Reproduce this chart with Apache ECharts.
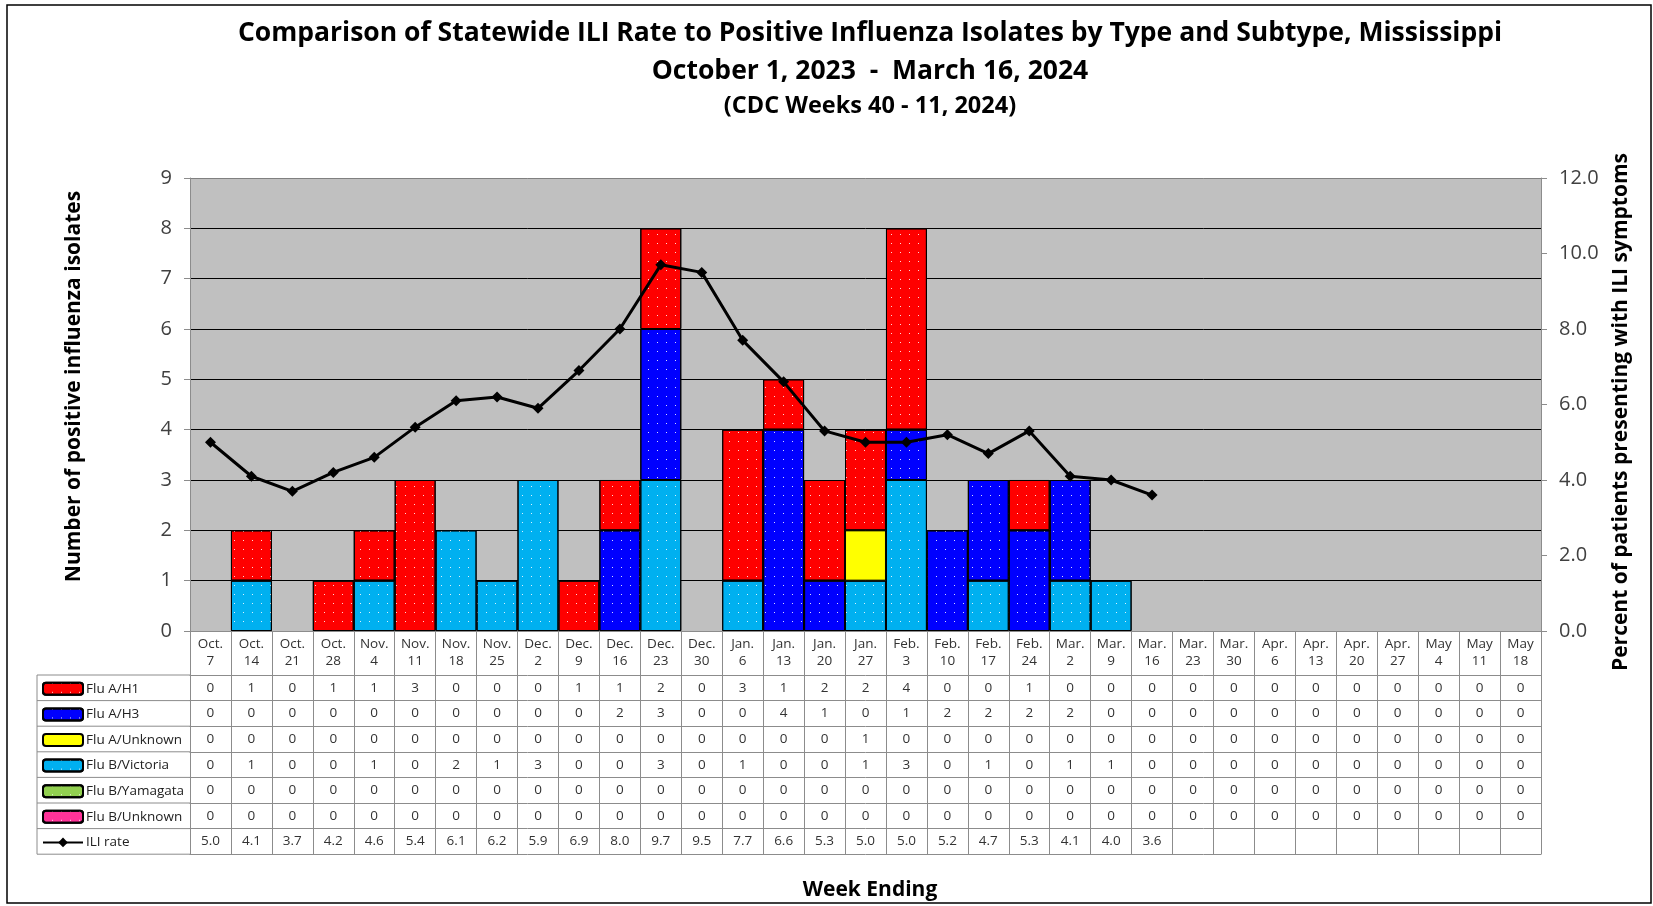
<!DOCTYPE html>
<html>
<head>
<meta charset="utf-8">
<title>ILI Rate vs Positive Influenza Isolates, Mississippi</title>
<script src="https://cdn.jsdelivr.net/npm/echarts@6.0.0/dist/echarts.min.js"></script>
<style>
  html, body { margin: 0; padding: 0; background: #fff; }
  #chart { width: 1653px; height: 906px; }
</style>
</head>
<body>
<div id="chart"></div>
<script>
// week ending (CDC weeks 40 - 20)
const weeks = ['Oct.\n7', 'Oct.\n14', 'Oct.\n21', 'Oct.\n28', 'Nov.\n4', 'Nov.\n11', 'Nov.\n18', 'Nov.\n25',
  'Dec.\n2', 'Dec.\n9', 'Dec.\n16', 'Dec.\n23', 'Dec.\n30', 'Jan.\n6', 'Jan.\n13', 'Jan.\n20', 'Jan.\n27',
  'Feb.\n3', 'Feb.\n10', 'Feb.\n17', 'Feb.\n24', 'Mar.\n2', 'Mar.\n9', 'Mar.\n16', 'Mar.\n23', 'Mar.\n30',
  'Apr.\n6', 'Apr.\n13', 'Apr.\n20', 'Apr.\n27', 'May\n4', 'May\n11', 'May\n18']

// isolates per week
const fluAH1       = [0, 1, 0, 1, 1, 3, 0, 0, 0, 1, 1, 2, 0, 3, 1, 2, 2, 4, 0, 0, 1, 0, 0, 0, 0, 0, 0, 0, 0, 0, 0, 0, 0]
const fluAH3       = [0, 0, 0, 0, 0, 0, 0, 0, 0, 0, 2, 3, 0, 0, 4, 1, 0, 1, 2, 2, 2, 2, 0, 0, 0, 0, 0, 0, 0, 0, 0, 0, 0]
const fluAUnknown  = [0, 0, 0, 0, 0, 0, 0, 0, 0, 0, 0, 0, 0, 0, 0, 0, 1, 0, 0, 0, 0, 0, 0, 0, 0, 0, 0, 0, 0, 0, 0, 0, 0]
const fluBVictoria = [0, 1, 0, 0, 1, 0, 2, 1, 3, 0, 0, 3, 0, 1, 0, 0, 1, 3, 0, 1, 0, 1, 1, 0, 0, 0, 0, 0, 0, 0, 0, 0, 0]
const fluBYamagata = [0, 0, 0, 0, 0, 0, 0, 0, 0, 0, 0, 0, 0, 0, 0, 0, 0, 0, 0, 0, 0, 0, 0, 0, 0, 0, 0, 0, 0, 0, 0, 0, 0]
const fluBUnknown  = [0, 0, 0, 0, 0, 0, 0, 0, 0, 0, 0, 0, 0, 0, 0, 0, 0, 0, 0, 0, 0, 0, 0, 0, 0, 0, 0, 0, 0, 0, 0, 0, 0]

// percent of patients with ILI symptoms (reported weeks only)
const iliRate = [5.0, 4.1, 3.7, 4.2, 4.6, 5.4, 6.1, 6.2, 5.9, 6.9, 8.0, 9.7, 9.5, 7.7, 6.6, 5.3, 5.0, 5.0, 5.2, 4.7, 5.3, 4.1, 4.0, 3.6]

// layout
const PLOT_LEFT = 190, PLOT_RIGHT = 1541, PLOT_TOP = 178, PLOT_BOTTOM = 631
const HEADER_H = 44, ROW_H = 25.6, TABLE_LEFT = 37
const FONT = "'Open Sans', 'Noto Sans', sans-serif"
const TABLE_LINE = '#8c8c8c'

const dots = {
  symbol: 'rect', symbolSize: 1, color: 'rgba(255,255,255,0.85)',
  dashArrayX: [1, 8], dashArrayY: [1, 8], rotation: 0
}

// rows of the data table, top to bottom
const rows = [
  { name: 'Flu A/H1', values: fluAH1, color: '#ff0000', dots: true },
  { name: 'Flu A/H3', values: fluAH3, color: '#0000ff', dots: true },
  { name: 'Flu A/Unknown', values: fluAUnknown, color: '#ffff00', dots: false },
  { name: 'Flu B/Victoria', values: fluBVictoria, color: '#00b0f0', dots: true },
  { name: 'Flu B/Yamagata', values: fluBYamagata, color: '#92d050', dots: true },
  { name: 'Flu B/Unknown', values: fluBUnknown, color: '#ff3399', dots: true },
  { name: 'ILI rate', values: iliRate, decimals: true }
]

// stack order bottom -> top
const stackOrder = ['Flu B/Unknown', 'Flu B/Yamagata', 'Flu B/Victoria', 'Flu A/Unknown', 'Flu A/H3', 'Flu A/H1']

const barSeries = stackOrder.map(name => {
  const r = rows.find(item => item.name == name)
  const itemStyle = { color: r.color, borderColor: '#000', borderWidth: 1 }
  if (r.dots) itemStyle.decal = dots
  return {
    name: r.name,
    type: 'bar',
    stack: 'isolates',
    barCategoryGap: '0%',
    data: r.values.map(v => v === 0 ? null : v),
    itemStyle: itemStyle,
    emphasis: { disabled: true }
  }
})

const lineSeries = {
  name: 'ILI rate',
  type: 'line',
  yAxisIndex: 1,
  data: iliRate,
  symbol: 'diamond',
  symbolSize: 11,
  lineStyle: { color: '#000', width: 3 },
  itemStyle: { color: '#000' },
  z: 5
}

// main category axis = table header, its ticks are the table's vertical lines
const headerAxis = {
  type: 'category',
  data: weeks,
  position: 'bottom',
  axisLine: { show: true, onZero: false, lineStyle: { color: TABLE_LINE } },
  axisTick: { show: true, interval: 0, length: HEADER_H + ROW_H * rows.length, lineStyle: { color: TABLE_LINE } },
  axisLabel: { interval: 0, margin: 5, fontSize: 13.5, lineHeight: 17, color: '#333', fontFamily: FONT }
}

// one axis per table row, the axis line is the row's top border
const rowAxes = rows.map((r, i) => ({
  type: 'category',
  data: weeks,
  position: 'bottom',
  offset: HEADER_H + i * ROW_H,
  axisLine: { show: true, onZero: false, lineStyle: { color: TABLE_LINE } },
  axisTick: { show: false },
  splitLine: { show: false },
  axisLabel: {
    interval: 0, margin: 5, fontSize: 13.5, lineHeight: 16, color: '#333', fontFamily: FONT,
    formatter: (v, idx) => {
      const val = r.values[idx]
      if (val == null) return ''
      return r.decimals ? val.toFixed(1) : String(val)
    }
  }
}))

const bottomAxis = {
  type: 'category',
  data: weeks,
  position: 'bottom',
  offset: HEADER_H + rows.length * ROW_H,
  axisLine: { show: true, onZero: false, lineStyle: { color: TABLE_LINE } },
  axisTick: { show: false },
  axisLabel: { show: false }
}

// legend column, one legend per row so it sits in its cell
const legends = rows.map((r, i) => ({
  data: [r.name],
  left: TABLE_LEFT + 5,
  top: PLOT_BOTTOM + HEADER_H + ROW_H * (i + 0.5) - 6,
  itemWidth: 40,
  itemHeight: 12,
  padding: 0,
  selectedMode: false,
  textStyle: { fontSize: 13.5, color: '#222', fontFamily: FONT, padding: [0, 0, 0, -2] }
}))

// legend column grid lines
const legendLines = []
for (let i = 0; i <= rows.length; i++) {
  const y = PLOT_BOTTOM + HEADER_H + i * ROW_H
  legendLines.push({ type: 'line', shape: { x1: TABLE_LEFT, y1: y, x2: PLOT_LEFT, y2: y }, style: { stroke: TABLE_LINE, lineWidth: 1 } })
}
legendLines.push({ type: 'line', shape: { x1: TABLE_LEFT, y1: PLOT_BOTTOM + HEADER_H, x2: TABLE_LEFT, y2: PLOT_BOTTOM + HEADER_H + rows.length * ROW_H }, style: { stroke: TABLE_LINE, lineWidth: 1 } })

const titleText = (text, y, size) => ({
  type: 'text', x: 870, y: y,
  style: { text: text, fontSize: size, fontWeight: 'bold', fontFamily: FONT, fill: '#000', align: 'center', verticalAlign: 'middle' }
})

const myChart = echarts.init(document.getElementById('chart'))
const option = {
  animation: false,
  backgroundColor: '#fff',
  grid: {
    left: PLOT_LEFT, right: 1653 - PLOT_RIGHT, top: PLOT_TOP, bottom: 906 - PLOT_BOTTOM,
    show: true, backgroundColor: '#c0c0c0', borderWidth: 0,
    outerBoundsMode: 'none'
  },
  legend: legends,
  xAxis: [headerAxis].concat(rowAxes, [bottomAxis]),
  yAxis: [
    {
      type: 'value', min: 0, max: 9, interval: 1,
      name: 'Number of positive influenza isolates',
      nameLocation: 'middle', nameRotate: 90, nameGap: 105,
      nameTextStyle: { fontSize: 21, fontWeight: 'bold', color: '#000', fontFamily: FONT, padding: [0, 0, 0, 36] },
      axisLine: { show: true, lineStyle: { color: '#8c8c8c' } },
      axisTick: { show: true, length: 6, lineStyle: { color: '#8c8c8c' } },
      axisLabel: { fontSize: 20, color: '#404040', margin: 18, fontFamily: FONT },
      splitLine: { show: true, lineStyle: { color: ['#8c8c8c', '#000', '#000', '#000', '#000', '#000', '#000', '#000', '#000', '#808080'], width: 1 } }
    },
    {
      type: 'value', min: 0, max: 12, interval: 2, position: 'right',
      name: 'Percent of patients presenting with ILI symptoms',
      nameLocation: 'middle', nameRotate: 90, nameGap: 70,
      nameTextStyle: { fontSize: 21, fontWeight: 'bold', color: '#000', fontFamily: FONT, padding: [0, 15, 0, 0] },
      axisLine: { show: true, lineStyle: { color: '#8c8c8c' } },
      axisTick: { show: true, length: 6, lineStyle: { color: '#8c8c8c' } },
      axisLabel: { fontSize: 20, color: '#404040', margin: 18, fontFamily: FONT, formatter: v => v.toFixed(1) },
      splitLine: { show: false }
    }
  ],
  series: barSeries.concat([lineSeries]),
  graphic: [
    { type: 'rect', shape: { x: 7, y: 5, width: 1644, height: 898 }, style: { fill: 'none', stroke: '#000', lineWidth: 1.5 }, silent: true },
    titleText('Comparison of Statewide ILI Rate to Positive Influenza Isolates by Type and Subtype, Mississippi', 33, 26.5),
    titleText('October 1, 2023  -  March 16, 2024', 71, 26.5),
    titleText('(CDC Weeks 40 - 11, 2024)', 106, 23.5),
    titleText('Week Ending', 890, 21)
  ].concat(legendLines)
}
myChart.setOption(option)
</script>
</body>
</html>
